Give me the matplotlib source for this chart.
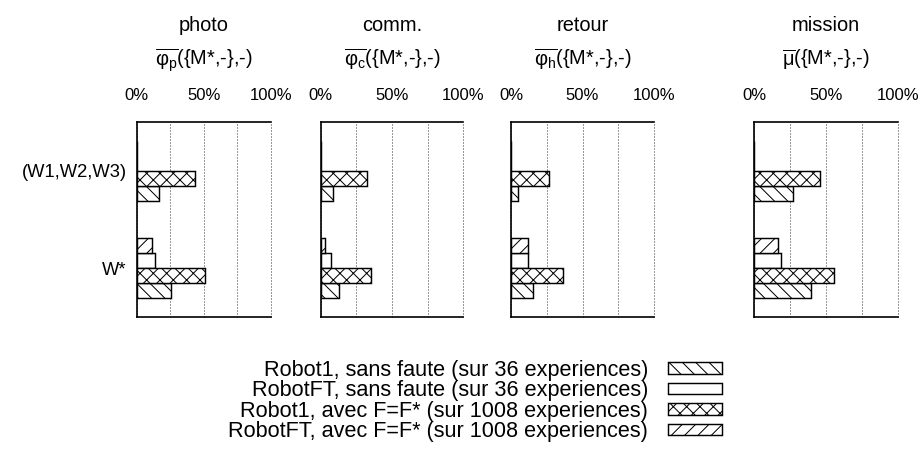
import numpy as np
import matplotlib
matplotlib.use("Agg")
import matplotlib.pyplot as plt
from matplotlib.patches import Rectangle
from matplotlib.ticker import FixedLocator

plt.rcParams['font.family'] = ['Liberation Sans', 'DejaVu Sans']
plt.rcParams['mathtext.fontset'] = 'custom'
plt.rcParams['mathtext.rm'] = 'Liberation Sans'
plt.rcParams['mathtext.it'] = 'Liberation Sans:italic'
plt.rcParams['mathtext.sf'] = 'Liberation Sans'
plt.rcParams['hatch.linewidth'] = 0.9

# ---------------- data ----------------
categories = ['(W1,W2,W3)', 'W*']
panel_names = ['photo', 'comm.', 'retour', 'mission']
panel_formulas = [r'$\overline{\mathrm{φ}_\mathrm{p}}$({M*,-},-)',
                  r'$\overline{\mathrm{φ}_\mathrm{c}}$({M*,-},-)',
                  r'$\overline{\mathrm{φ}_\mathrm{h}}$({M*,-},-)',
                  r'$\overline{\mathrm{μ}}$({M*,-},-)']
series_labels = ['Robot1, sans faute (sur 36 experiences)',
                 'RobotFT, sans faute (sur 36 experiences)',
                 'Robot1, avec F=F* (sur 1008 experiences)',
                 'RobotFT, avec F=F* (sur 1008 experiences)']
series_hatches = ['\\\\', '', 'xx', '//']
# slot of each series inside a group, counted from the bottom
series_slot = [0, 2, 1, 3]

# values in percent: [ (W1,W2,W3), W* ]
photo_robot1_sans   = [16.6, 25.3]
photo_robotft_sans  = [0.0, 13.6]
photo_robot1_avec   = [43.4, 50.9]
photo_robotft_avec  = [0.0, 11.6]

comm_robot1_sans    = [8.8, 12.8]
comm_robotft_sans   = [0.0, 7.2]
comm_robot1_avec    = [32.3, 35.0]
comm_robotft_avec   = [0.0, 3.0]

retour_robot1_sans  = [5.1, 15.1]
retour_robotft_sans = [0.0, 12.1]
retour_robot1_avec  = [26.6, 36.1]
retour_robotft_avec = [0.0, 12.1]

mission_robot1_sans  = [27.3, 39.5]
mission_robotft_sans = [0.0, 18.6]
mission_robot1_avec  = [45.8, 55.8]
mission_robotft_avec = [0.0, 16.7]

panel_data = [
    [photo_robot1_sans, photo_robotft_sans, photo_robot1_avec, photo_robotft_avec],
    [comm_robot1_sans, comm_robotft_sans, comm_robot1_avec, comm_robotft_avec],
    [retour_robot1_sans, retour_robotft_sans, retour_robot1_avec, retour_robotft_avec],
    [mission_robot1_sans, mission_robotft_sans, mission_robot1_avec, mission_robotft_avec],
]
xtick_values = [0, 50, 100]
xtick_labels = ['0%', '50%', '100%']

# ---------------- figure ----------------
DPI = 80
W, H = 920, 451
fig = plt.figure(figsize=(W / DPI, H / DPI), dpi=DPI)
FS_TICK = 15
FS_YLAB = 16.5
FS_TITLE = 18
FS_LEG = 19.5

# axes positions in pixels (left, right)
ax_px = [(136.7, 271.0), (320.7, 463.3), (511.0, 654.0), (754.3, 897.7)]
top_px, bot_px = 122.3, 316.7
bar_h = 0.153
ypos = np.arange(len(categories))

for i, (l, r) in enumerate(ax_px):
    ax = fig.add_axes([l / W, 1 - bot_px / H, (r - l) / W, (bot_px - top_px) / H])
    for k in range(len(series_labels)):
        offs = (1.5 - series_slot[k]) * bar_h
        ax.barh(ypos + offs, panel_data[i][k], height=bar_h, facecolor='white',
                edgecolor='black', linewidth=1.3, hatch=series_hatches[k], zorder=3)
    ax.set_xlim(0, 100)
    ax.set_ylim(1.5, -0.5)
    ax.xaxis.tick_top()
    ax.set_xticks(xtick_values)
    ax.set_xticklabels(xtick_labels, fontsize=FS_TICK)
    ax.xaxis.set_minor_locator(FixedLocator([25, 75]))
    ax.tick_params(axis='x', which='both', length=0, pad=17)
    ax.grid(axis='x', which='both', linestyle=(0, (1, 2)), color='#333333', linewidth=0.9)
    ax.set_axisbelow(True)
    for gl in ax.xaxis.get_gridlines():
        gl.set_clip_on(False)
    ax.spines['right'].set_visible(False)
    for s in ['top', 'left', 'bottom']:
        ax.spines[s].set_linewidth(1.5)
    if i == 0:
        ax.set_yticks(ypos)
        ax.set_yticklabels(categories, fontsize=FS_YLAB)
        ax.tick_params(axis='y', length=0, pad=9)
    else:
        ax.set_yticks([])
    cx = (l + r) / 2 / W
    fig.text(cx, 1 - 31 / H, panel_names[i], ha='center', va='baseline', fontsize=FS_TITLE)
    fig.text(cx, 1 - 66 / H, panel_formulas[i], ha='center', va='baseline', fontsize=FS_TITLE)

handles = [Rectangle((0, 0), 1, 1, facecolor='white', edgecolor='black',
                     linewidth=1.3, hatch=h) for h in series_hatches]
fig.legend(handles, series_labels, loc='upper right',
           bbox_to_anchor=(722 / W, 1 - 360 / H), frameon=False, fontsize=FS_LEG,
           markerfirst=False, handlelength=2.5, handleheight=0.45,
           handletextpad=0.9, labelspacing=-0.03, borderpad=0, borderaxespad=0)

fig.savefig('out.png', dpi=DPI)
